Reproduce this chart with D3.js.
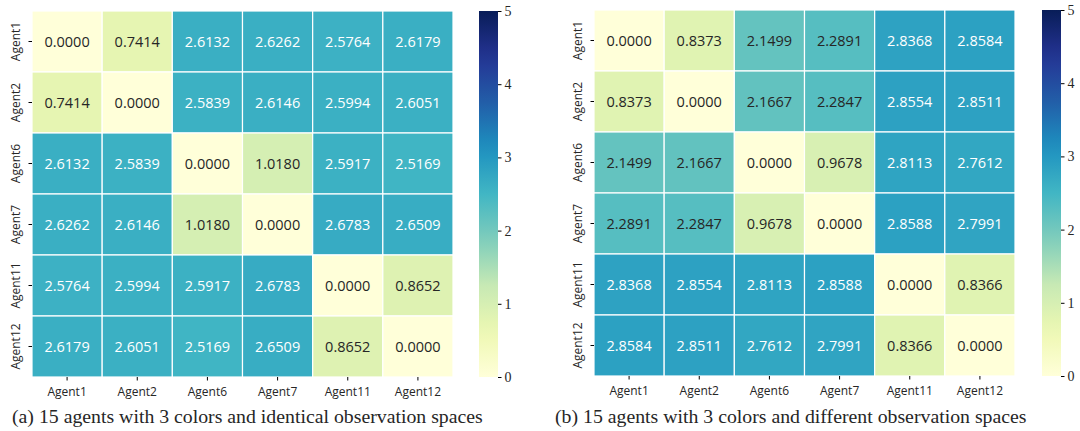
<!DOCTYPE html>
<html>
<head>
<meta charset="utf-8">
<script src="https://cdn.jsdelivr.net/npm/d3@7"></script>
<style>
  body { margin: 0; background: #fff; }
  svg text { fill: #262626; }
</style>
</head>
<body>
<div id="chart"></div>
<script>
// Agent labels (same on both axes)
const agents = ["Agent1", "Agent2", "Agent6", "Agent7", "Agent11", "Agent12"];

// (a) identical observation spaces
const valuesA = [
  [0.0000, 0.7414, 2.6132, 2.6262, 2.5764, 2.6179],
  [0.7414, 0.0000, 2.5839, 2.6146, 2.5994, 2.6051],
  [2.6132, 2.5839, 0.0000, 1.0180, 2.5917, 2.5169],
  [2.6262, 2.6146, 1.0180, 0.0000, 2.6783, 2.6509],
  [2.5764, 2.5994, 2.5917, 2.6783, 0.0000, 0.8652],
  [2.6179, 2.6051, 2.5169, 2.6509, 0.8652, 0.0000]
];

// (b) different observation spaces
const valuesB = [
  [0.0000, 0.8373, 2.1499, 2.2891, 2.8368, 2.8584],
  [0.8373, 0.0000, 2.1667, 2.2847, 2.8554, 2.8511],
  [2.1499, 2.1667, 0.0000, 0.9678, 2.8113, 2.7612],
  [2.2891, 2.2847, 0.9678, 0.0000, 2.8588, 2.7991],
  [2.8368, 2.8554, 2.8113, 2.8588, 0.0000, 0.8366],
  [2.8584, 2.8511, 2.7612, 2.7991, 0.8366, 0.0000]
];

const colorTicks = [0, 1, 2, 3, 4, 5];
const captions = [
  "(a) 15 agents with 3 colors and identical observation spaces",
  "(b) 15 agents with 3 colors and different observation spaces"
];

const W = 1080, H = 431;
const svg = d3.select("#chart").append("svg")
  .attr("width", W).attr("height", H);

// matplotlib-style YlGnBu: piecewise linear through the 9 brewer colours
const color = d3.scaleSequential(d3.piecewise(d3.interpolateRgb, d3.schemeYlGnBu[9]))
  .domain([0, 5]);

function luminance(c) {
  const rgb = d3.rgb(c);
  const f = v => {
    v /= 255;
    return v <= 0.03928 ? v / 12.92 : Math.pow((v + 0.055) / 1.055, 2.4);
  };
  return 0.2126 * f(rgb.r) + 0.7152 * f(rgb.g) + 0.0722 * f(rgb.b);
}

const sans = "'Open Sans', 'Liberation Sans', sans-serif";
const serif = "'Liberation Serif', 'Times New Roman', serif";

function drawPanel(values, left, top, width, height, cbX, caption, capX) {
  const g = svg.append("g");

  const x = d3.scaleBand().domain(agents).range([left, left + width]);
  const y = d3.scaleBand().domain(agents).range([top, top + height]);

  const cells = [];
  values.forEach((row, i) => row.forEach((v, j) => cells.push({ r: agents[i], c: agents[j], v })));

  g.selectAll("rect.cell")
    .data(cells)
    .enter().append("rect")
    .attr("class", "cell")
    .attr("x", d => x(d.c))
    .attr("y", d => y(d.r))
    .attr("width", x.bandwidth())
    .attr("height", y.bandwidth())
    .attr("fill", d => color(d.v))
    .attr("stroke", "#fff")
    .attr("stroke-width", 1.2);

  g.selectAll("text.val")
    .data(cells)
    .enter().append("text")
    .attr("class", "val")
    .attr("x", d => x(d.c) + x.bandwidth() / 2)
    .attr("y", d => y(d.r) + y.bandwidth() / 2)
    .attr("text-anchor", "middle")
    .attr("dominant-baseline", "central")
    .style("font-family", sans)
    .style("font-size", "14.5px")
    .style("fill", d => luminance(color(d.v)) > 0.408 ? "#262626" : "#fff")
    .text(d => d.v.toFixed(4));

  // x axis
  const xAxis = g.append("g")
    .attr("transform", `translate(0,${top + height})`)
    .call(d3.axisBottom(x).tickSize(3.5).tickPadding(7));
  xAxis.select(".domain").remove();
  xAxis.selectAll("text").style("font-family", sans).style("font-size", "12px");

  // y axis with rotated labels
  const yAxis = g.append("g")
    .attr("transform", `translate(${left},0)`)
    .call(d3.axisLeft(y).tickSize(3.5).tickPadding(5));
  yAxis.select(".domain").remove();
  yAxis.selectAll("text")
    .style("font-family", sans).style("font-size", "12px")
    .attr("text-anchor", "middle")
    .attr("x", null).attr("dy", null)
    .attr("transform", "translate(-12,0) rotate(-90)");

  // colorbar
  const cbW = 19;
  const cy = d3.scaleLinear().domain([0, 5]).range([top + height, top]);
  const gradId = "grad" + left;
  const grad = svg.append("defs").append("linearGradient")
    .attr("id", gradId).attr("x1", 0).attr("y1", 1).attr("x2", 0).attr("y2", 0);
  d3.range(0, 1.0001, 0.05).forEach(t => {
    grad.append("stop").attr("offset", t).attr("stop-color", color(t * 5));
  });
  g.append("rect")
    .attr("x", cbX).attr("y", top)
    .attr("width", cbW).attr("height", height)
    .attr("fill", `url(#${gradId})`);
  const cAxis = g.append("g")
    .attr("transform", `translate(${cbX + cbW},0)`)
    .call(d3.axisRight(cy).tickValues(colorTicks).tickFormat(d3.format("d")).tickSize(3.5).tickPadding(3));
  cAxis.select(".domain").remove();
  cAxis.selectAll("text").style("font-family", serif).style("font-size", "14px");

  // caption
  g.append("text")
    .attr("x", capX).attr("y", 423)
    .style("font-family", serif)
    .style("font-size", "19.8px")
    .text(caption);
}

drawPanel(valuesA, 32, 11, 421, 366, 479, captions[0], 12);
drawPanel(valuesB, 594, 10, 421, 366, 1042, captions[1], 555);
</script>
</body>
</html>
